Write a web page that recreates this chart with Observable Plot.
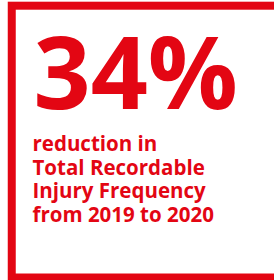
<!DOCTYPE html>
<html>
<head>
<meta charset="utf-8">
<script src="https://cdn.jsdelivr.net/npm/d3@7"></script>
<script src="https://cdn.jsdelivr.net/npm/@observablehq/plot@0.6"></script>
<style>
  html, body { margin: 0; padding: 0; background: #fff; overflow: hidden; }
  #chart { width: 274px; height: 280px; overflow: hidden; }
</style>
</head>
<body>
<div id="chart"></div>
<script>
// Data
const headlineValue = [34];
const headlineUnit = "%";
const captionLines = ["reduction in", "Total Recordable", "Injury Frequency", "from 2019 to 2020"];

const red = "#e30613";
const font = "'Open Sans', sans-serif";

const chart = Plot.plot({
  width: 274,
  height: 280,
  margin: 0,
  style: { background: "#fff", overflow: "hidden" },
  x: { domain: [0, 1], axis: null },
  y: { domain: [0, 1], axis: null },
  marks: [
    Plot.frame({ stroke: red, strokeWidth: 8, insetLeft: 11.25, insetTop: 5.2, insetBottom: 3, insetRight: -30 }),
    Plot.text(headlineValue, {
      text: d => `${d}${headlineUnit}`,
      frameAnchor: "top-left",
      lineAnchor: "top",
      textAnchor: "start",
      dx: 33, dy: 37,
      fontSize: 100, fontWeight: 700, fontFamily: font, fill: red,
      ariaLabel: "headline"
    }),
    Plot.text([captionLines.join("\n")], {
      text: d => d,
      frameAnchor: "top-left",
      lineAnchor: "top",
      textAnchor: "start",
      lineHeight: 1.17,
      dx: 32, dy: 133,
      fontSize: 20.5, fontWeight: 700, fontFamily: font, fill: red,
      ariaLabel: "caption"
    })
  ]
});
// letter spacing to mimic the wider typeface of the original
d3.select(chart).selectAll('g[aria-label="headline"] text').style("letter-spacing", "9px");
d3.select(chart).selectAll('g[aria-label="caption"] text').style("letter-spacing", "1.4px");
document.getElementById("chart").append(chart);
</script>
</body>
</html>
